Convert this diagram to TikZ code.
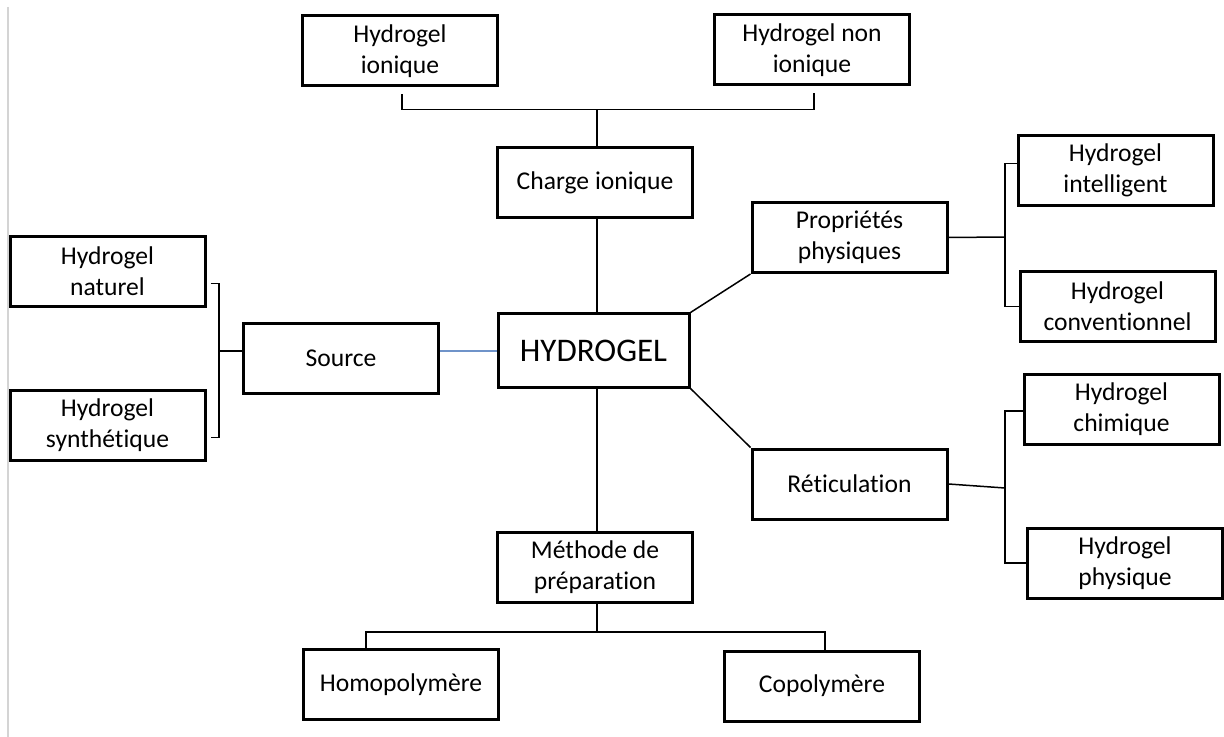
\documentclass[tikz,border=0pt]{standalone}
\usepackage{fontspec}
\setmainfont{Carlito}[Ligatures={NoCommon}]
\usepackage{tikz}
\usetikzlibrary{calc,positioning}
\definecolor{traitBleu}{HTML}{6F93C9}
\definecolor{bordGris}{HTML}{D4D4D4}

\begin{document}
\begin{tikzpicture}[x=0.5pt, y=-0.5pt, every node/.style={font=\fontsize{12.8}{15.5}\selectfont},
  boite/.style={draw, line width=1.5pt, minimum width=97.5pt, minimum height=35pt,
               align=center, inner sep=2pt},
  lien/.style={line width=0.75pt}]
\useasboundingbox (0,0) rectangle (1224,737);
\draw[bordGris, line width=0.6pt] (8,7) -- (8,737);
\node[boite] (hIon) at (400,51) {Hydrogel\\ionique};
\node[boite] (hNonIon) at (812,50) {Hydrogel non\\ionique};
\node[boite] (charge) at (595,183) {Charge ionique};
\node[boite, minimum width=95.5pt, minimum height=36.5pt,
      font=\fontsize{16.5}{19}\selectfont] (hydro) at (593.5,350.5) {HYDROGEL};
\node[boite] (source) at (341,358.5) {Source};
\node[boite] (hNat) at (107.5,271.5) {Hydrogel\\naturel};
\node[boite] (hSyn) at (107.5,425.5) {Hydrogel\\synthétique};
\node[boite] (props) at (849.5,237.5) {Propriétés\\physiques};
\node[boite] (hIntel) at (1115.5,170.5) {Hydrogel\\intelligent};
\node[boite] (hConv) at (1117.5,306.5) {Hydrogel\\conventionnel};
\node[boite] (retic) at (849.5,484) {Réticulation};
\node[boite] (hChim) at (1121.5,409) {Hydrogel\\chimique};
\node[boite] (hPhys) at (1125,563) {Hydrogel\\physique};
\node[boite] (methode) at (595,567.5) {Méthode de\\préparation};
\node[boite] (homo) at (401,684.5) {Homopolymère};
\node[boite] (copo) at (822,686) {Copolymère};
% embranchements
\coordinate (hautBar) at ($(charge.north)+(2,-37)$);
\coordinate (basBar) at ($(methode.south)+(2,28)$);
\coordinate (gBar) at (219,351);
\coordinate (pBar) at (1005,237);
\coordinate (rBar) at (1005,488);
\draw[lien] ($(hIon.south)+(2,7)$) |- (hautBar) -| ($(hNonIon.south)+(2,7)$);
\draw[lien] (hautBar) -- (hautBar |- charge.north);
\draw[lien] (hautBar |- charge.south) -- (hautBar |- hydro.north);
\draw[lien] (hautBar |- hydro.south) -- (hautBar |- methode.north);
\draw[lien] (basBar |- methode.south) -- (basBar);
\draw[lien] ($(homo.north)+(-35,0)$) |- (basBar) -| ($(copo.north)+(3,0)$);
\draw[lien] ($(hNat.east)+(4,12)$) -| (gBar) |- ($(hSyn.east)+(4,12)$);
\draw[lien] (gBar) -- (source.west |- gBar);
\draw[traitBleu, line width=1pt] (source.east |- hydro.center) -- (hydro.west);
\draw[lien] (hydro.north east) -- (props.south west);
\draw[lien] (hydro.south east) -- (retic.north west);
\draw[lien] (props.east) -- (pBar);
\draw[lien] ($(hIntel.west)+(0,-7)$) -| (pBar) |- (hConv.west);
\draw[lien] (retic.east) -- (rBar);
\draw[lien] ($(hChim.west)+(0,2)$) -| (rBar) |- (hPhys.west);
\end{tikzpicture}
\end{document}
